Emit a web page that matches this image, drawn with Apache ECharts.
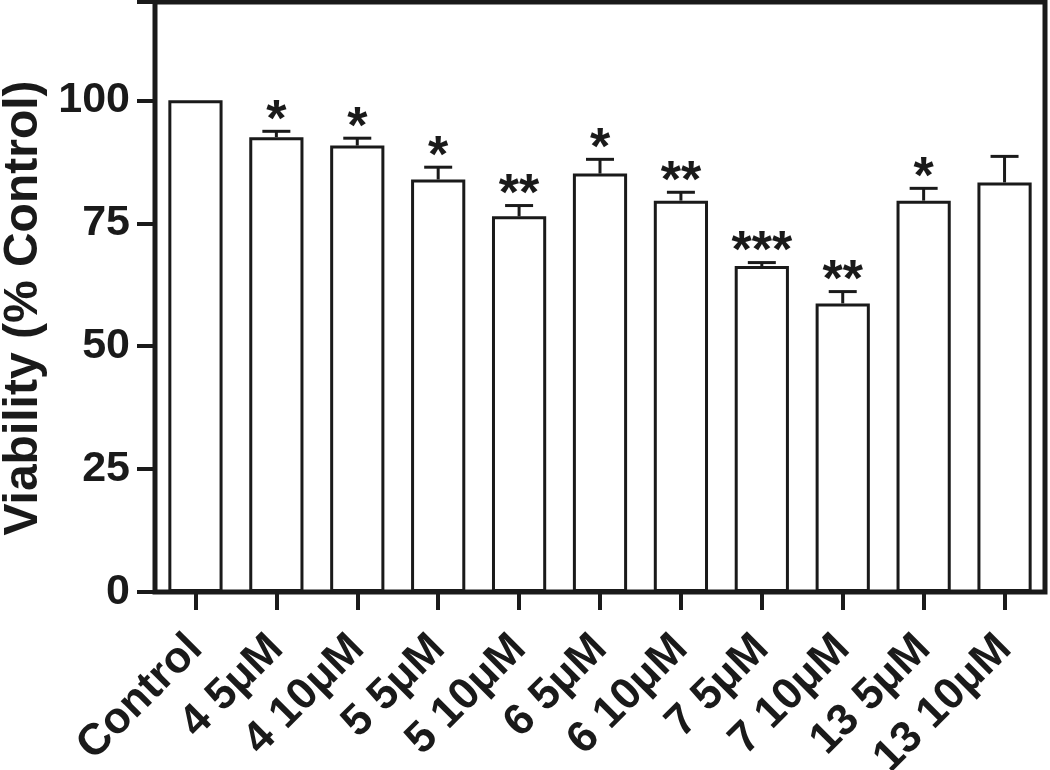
<!DOCTYPE html>
<html lang="en">
<head>
    <meta charset="UTF-8">
    <title>Viability</title>
    <script src="https://cdn.jsdelivr.net/npm/echarts@6/dist/echarts.min.js"></script>
    <style>
        html, body { margin: 0; padding: 0; background: #fff; }
        #chart { width: 1050px; height: 770px; }
    </style>
</head>
<body>
<div id="chart"></div>
<script>
    // groups on the x axis
    const categories = ['Control', '4 5μM', '4 10μM', '5 5μM', '5 10μM', '6 5μM', '6 10μM', '7 5μM', '7 10μM', '13 5μM', '13 10μM'];
    // mean viability (% control)
    const means = [100, 92.5, 90.8, 83.9, 76.4, 85.1, 79.6, 66.3, 58.7, 79.6, 83.3];
    // upper error (SEM)
    const errors = [0, 1.2, 1.5, 2.5, 2.2, 2.9, 1.7, 0.7, 2.4, 2.5, 5.3];
    // significance marks
    const stars = ['', '*', '*', '*', '**', '*', '**', '***', '**', '*', ''];
    const yTicks = [0, 25, 50, 75, 100];

    const ink = '#1a1a1a';
    const font = '"Liberation Sans", Arial, Helvetica, sans-serif';

    const chart = echarts.init(document.getElementById('chart'));

    chart.setOption({
        animation: false,
        grid: {
            left: 155, right: 5, top: 2, bottom: 178,
            outerBoundsMode: 'none',
            show: true, borderColor: ink, borderWidth: 5, backgroundColor: 'transparent'
        },
        xAxis: {
            type: 'category',
            data: categories,
            axisLine: {lineStyle: {color: ink, width: 4}},
            axisTick: {show: true, alignWithLabel: true, length: 18, lineStyle: {color: ink, width: 4}},
            axisLabel: {
                rotate: 45, margin: 50, interval: 0,
                color: ink, fontFamily: font, fontWeight: 'bold', fontSize: 44
            }
        },
        yAxis: {
            type: 'value',
            min: 0, max: 120, interval: 25,
            name: 'Viability (% Control)',
            nameLocation: 'middle',
            nameGap: 106,
            nameTextStyle: {
                color: ink, fontFamily: font, fontWeight: 'bold', fontSize: 48,
                padding: [0, 22, 0, 0]
            },
            splitLine: {show: false},
            axisLine: {show: true, lineStyle: {color: ink, width: 4}},
            axisTick: {show: true, length: 18, lineStyle: {color: ink, width: 4}},
            axisLabel: {
                margin: 25, color: ink, fontFamily: font, fontWeight: 'bold', fontSize: 43,
                formatter: v => yTicks.indexOf(v) >= 0 ? String(v) : ''
            }
        },
        series: [
            {
                type: 'bar',
                data: means,
                barCategoryGap: '33%',
                itemStyle: {color: '#fff', borderColor: ink, borderWidth: 3}
            },
            {
                type: 'custom',
                data: categories.map((c, i) => [i, means[i], errors[i]]),
                z: 5,
                renderItem: function (params, api) {
                    const i = api.value(0);
                    const base = api.coord([i, api.value(1)]);
                    const top = api.coord([i, api.value(1) + api.value(2)]);
                    const children = [];
                    if (api.value(2) > 0) {
                        children.push({
                            type: 'line',
                            shape: {x1: base[0], y1: base[1], x2: top[0], y2: top[1]},
                            style: {stroke: ink, lineWidth: 3}
                        });
                        children.push({
                            type: 'line',
                            shape: {x1: top[0] - 14, y1: top[1], x2: top[0] + 14, y2: top[1]},
                            style: {stroke: ink, lineWidth: 3}
                        });
                    }
                    if (stars[i]) {
                        children.push({
                            type: 'text',
                            style: {
                                text: stars[i], x: top[0], y: top[1] + 16,
                                align: 'center', verticalAlign: 'bottom',
                                fill: ink, font: 'bold 52px ' + font
                            }
                        });
                    }
                    return {type: 'group', children: children};
                }
            }
        ]
    });
</script>
</body>
</html>
